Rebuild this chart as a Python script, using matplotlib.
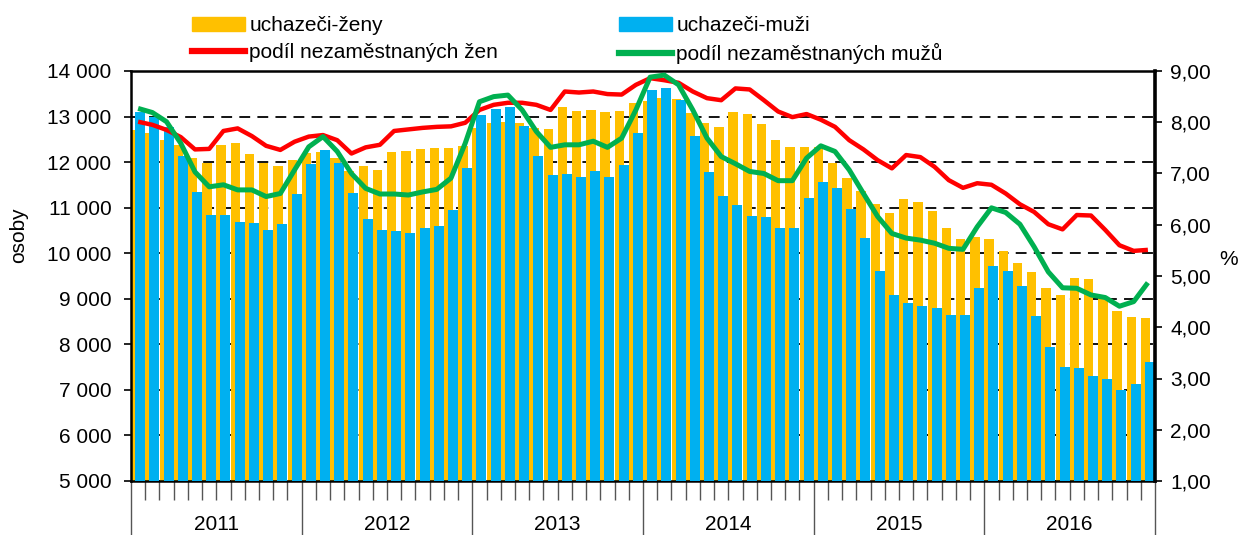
import numpy as np
import matplotlib
matplotlib.use("Agg")
import matplotlib.pyplot as plt
from matplotlib.ticker import FuncFormatter, MultipleLocator
from matplotlib.patches import Patch
from matplotlib.lines import Line2D
import matplotlib.transforms as mtransforms

plt.rcParams['font.family'] = ['Liberation Sans', 'DejaVu Sans']

years = ['2011', '2012', '2013', '2014', '2015', '2016']

# uchazeci - zeny (monthly, 2011-2016)
zeny = [12700, 12650, 12480, 12380, 12080, 11970, 12370, 12430, 12170, 11970, 11920, 12050,
        12190, 12220, 12080, 11800, 11910, 11830, 12220, 12250, 12290, 12300, 12300, 12360,
        12740, 12860, 12890, 12850, 12740, 12720, 13200, 13120, 13140, 13110, 13130, 13300,
        13350, 13410, 13380, 13070, 12860, 12780, 13090, 13050, 12840, 12480, 12340, 12340,
        12340, 11990, 11650, 11370, 11070, 10890, 11190, 11130, 10930, 10560, 10310, 10360,
        10310, 10050, 9790, 9580, 9240, 9080, 9450, 9430, 9010, 8740, 8590, 8570]

# uchazeci - muzi
muzi = [13100, 13000, 12780, 12130, 11350, 10850, 10850, 10680, 10660, 10500, 10650, 11310,
        11950, 12270, 11970, 11320, 10750, 10500, 10480, 10450, 10550, 10600, 10950, 11860,
        13030, 13160, 13200, 12790, 12130, 11720, 11750, 11680, 11800, 11670, 11940, 12650,
        13580, 13620, 13360, 12570, 11790, 11260, 11050, 10820, 10790, 10560, 10550, 11210,
        11570, 11430, 10960, 10330, 9600, 9080, 8900, 8850, 8790, 8640, 8640, 9230,
        9730, 9620, 9280, 8620, 7940, 7510, 7470, 7310, 7230, 7000, 7130, 7620]

# podil nezamestnanych zen (%)
podil_zeny = [8.01, 7.95, 7.85, 7.71, 7.47, 7.48, 7.83, 7.88, 7.73, 7.54, 7.46, 7.62,
              7.72, 7.75, 7.65, 7.39, 7.51, 7.56, 7.83, 7.86, 7.89, 7.91, 7.92, 7.99,
              8.24, 8.34, 8.38, 8.38, 8.34, 8.24, 8.60, 8.58, 8.60, 8.55, 8.54, 8.73,
              8.86, 8.82, 8.77, 8.60, 8.47, 8.43, 8.66, 8.64, 8.43, 8.21, 8.10, 8.16,
              8.05, 7.91, 7.65, 7.47, 7.26, 7.10, 7.36, 7.32, 7.13, 6.87, 6.72, 6.81,
              6.78, 6.61, 6.40, 6.25, 6.01, 5.91, 6.19, 6.18, 5.90, 5.60, 5.49, 5.51]

# podil nezamestnanych muzu (%)
podil_muzi = [8.27, 8.19, 8.01, 7.59, 7.03, 6.74, 6.78, 6.68, 6.68, 6.55, 6.61, 7.07,
              7.52, 7.72, 7.43, 7.00, 6.71, 6.60, 6.60, 6.58, 6.64, 6.69, 6.91, 7.59,
              8.40, 8.50, 8.53, 8.24, 7.82, 7.51, 7.56, 7.56, 7.63, 7.51, 7.69, 8.24,
              8.88, 8.92, 8.73, 8.24, 7.69, 7.33, 7.19, 7.04, 7.00, 6.86, 6.86, 7.30,
              7.54, 7.43, 7.07, 6.61, 6.16, 5.83, 5.74, 5.70, 5.64, 5.54, 5.52, 5.96,
              6.33, 6.24, 6.01, 5.57, 5.08, 4.77, 4.76, 4.63, 4.58, 4.41, 4.50, 4.87]

n = len(zeny)
x = np.arange(n) + 0.5
fs = 15

fig = plt.figure(figsize=(12.43, 5.35), dpi=100)
ax = fig.add_axes([131/1243, 1-481/535, (1155-131)/1243, (481-71)/535])

# grid behind bars
ax.set_axisbelow(True)
ax.yaxis.grid(True, color='black', linestyle=(0, (6, 4)), linewidth=1.3)

ax.bar(x - 0.165, zeny, width=0.66, color='#FFC000', zorder=2)
ax.bar(x + 0.14, muzi, width=0.7, color='#00B0F0', zorder=3)

ax.set_xlim(0, n)
ax.set_ylim(5000, 14000)
ax.yaxis.set_major_locator(MultipleLocator(1000))
ax.yaxis.set_major_formatter(FuncFormatter(lambda v, p: '{:,.0f}'.format(v).replace(',', ' ')))
ax.set_ylabel('osoby', fontsize=fs)
ax.yaxis.set_label_coords(-0.100, 0.60)

ax.set_xticks(np.arange(0, n + 1, 12))
ax.set_xticklabels([])
ax.set_xticks(np.arange(0, n + 1, 1), minor=True)
ax.tick_params(axis='x', which='major', length=40, width=1.0, color='#555555', direction='out')
ax.tick_params(axis='x', which='minor', length=14, width=1.0, color='#555555', direction='out')
ax.tick_params(axis='y', length=5, width=1.2, labelsize=fs, pad=9)

trans = mtransforms.blended_transform_factory(ax.transData, ax.transAxes)
for k, yr in enumerate(years):
    ax.text(k * 12 + 6, -0.105, yr, transform=trans, ha='center', va='center', fontsize=fs)

for s in ['left', 'top', 'bottom']:
    ax.spines[s].set_linewidth(1.8)
ax.spines['right'].set_visible(False)

ax2 = ax.twinx()
ax2.plot(x, podil_zeny, color='#FF0000', linewidth=3.2, zorder=4, solid_capstyle='butt')
ax2.plot(x, podil_muzi, color='#00B050', linewidth=3.6, zorder=5, solid_capstyle='butt')
ax2.set_ylim(1, 9)
ax2.yaxis.set_major_locator(MultipleLocator(1))
ax2.yaxis.set_major_formatter(FuncFormatter(lambda v, p: '{:.2f}'.format(v).replace('.', ',')))
ax2.tick_params(axis='y', length=5, width=1.2, labelsize=fs, pad=6)
ax2.set_ylabel('%', rotation=0, fontsize=fs, va='center', ha='center')
ax2.yaxis.set_label_coords(1.072, 0.54)
ax2.spines['right'].set_linewidth(2.6)
for s in ['left', 'top', 'bottom']:
    ax2.spines[s].set_visible(False)

handles = [Patch(color='#FFC000'), Line2D([], [], color='#FF0000', linewidth=4.5),
           Patch(color='#00B0F0'), Line2D([], [], color='#00B050', linewidth=4.5)]
labels = ['uchazeči-ženy', 'podíl nezaměstnaných žen',
          'uchazeči-muži', 'podíl nezaměstnaných mužů']
fig.legend(handles, labels, ncol=2, loc='upper left', bbox_to_anchor=(192/1243, 1 - 16/535),
           frameon=False, fontsize=fs, handlelength=2.55, handleheight=0.65,
           handletextpad=0.2, columnspacing=5.8, labelspacing=0.38,
           borderpad=0, borderaxespad=0)

fig.savefig('out.png', dpi=100)
